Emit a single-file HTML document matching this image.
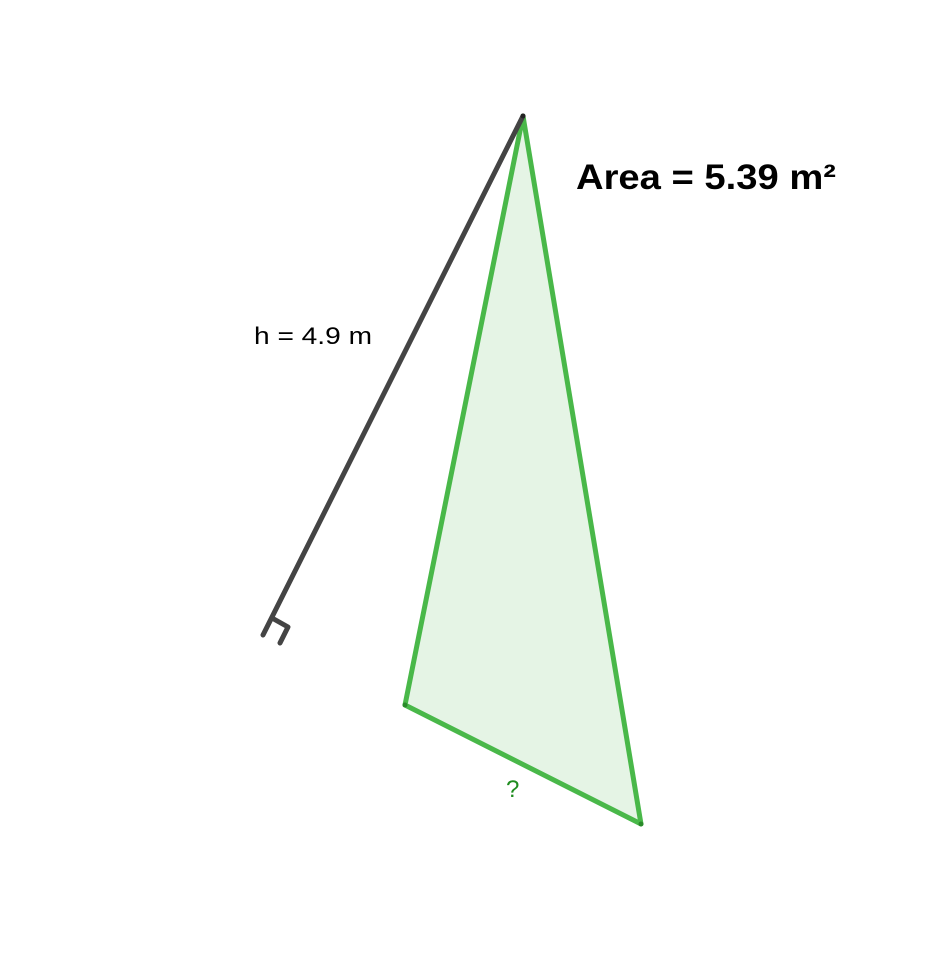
<!DOCTYPE html>
<html><head><meta charset="utf-8"><style>body{margin:0;background:#fff}svg{display:block}</style></head>
<body>
<svg width="949" height="977" viewBox="0 0 949 977" font-family="'Liberation Sans', sans-serif">
<polygon points="523,116 405,705 641,824" fill="#e5f4e5" stroke="#49b849" stroke-width="5" stroke-linejoin="round"/>
<line x1="523" y1="116" x2="263" y2="635" stroke="#444" stroke-width="5" stroke-linecap="round"/>
<polyline points="272,618 288,627 280,643" fill="none" stroke="#444" stroke-width="5" stroke-linecap="round" stroke-linejoin="round"/>
<circle cx="523" cy="116" r="2.5" fill="#222"/>
<circle cx="405" cy="705" r="2.5" fill="#2a8a2a"/>
<circle cx="641" cy="824" r="2.5" fill="#2a8a2a"/>
<text x="576" y="189" font-size="35" font-weight="bold" fill="#000" textLength="260" lengthAdjust="spacingAndGlyphs">Area = 5.39 m²</text>
<text x="254" y="344" font-size="24" fill="#000" textLength="118" lengthAdjust="spacingAndGlyphs">h = 4.9 m</text>
<text x="506" y="797" font-size="24" fill="#1e8c1e">?</text>
</svg>
</body></html>
